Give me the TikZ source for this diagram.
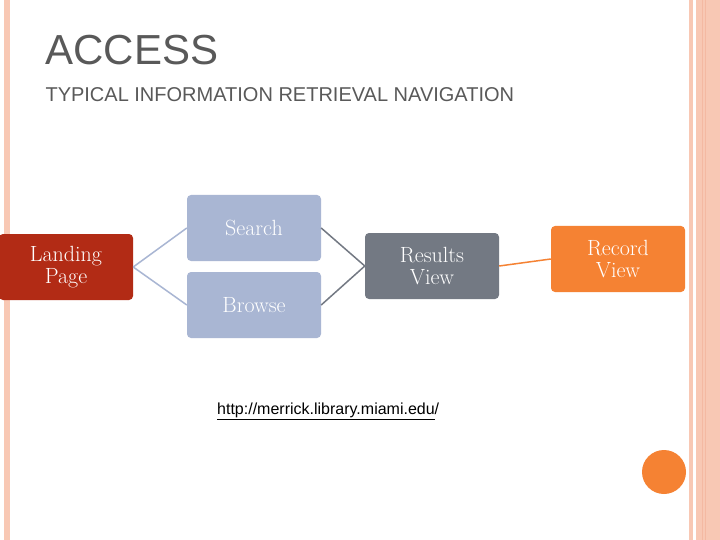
\documentclass[tikz,border=0pt]{standalone}
\usepackage{fontspec}
\setsansfont{Liberation Sans}
\definecolor{peach}{HTML}{F8C8B4}
\definecolor{peachd}{HTML}{F4B9A2}
\definecolor{red1}{HTML}{B22B15}
\definecolor{blue1}{HTML}{A9B6D3}
\definecolor{gray1}{HTML}{737983}
\definecolor{orange1}{HTML}{F58233}
\definecolor{txt}{HTML}{595959}
\begin{document}
\begin{tikzpicture}[x=1pt,y=-1pt,
  box/.style={rounded corners=4pt,minimum width=134pt,minimum height=66pt,text=white,align=center,font=\fontsize{22}{22}\selectfont,inner sep=0pt},
  conn/.style={line width=1.5pt}]
\useasboundingbox (0,0) rectangle (720,540);
\fill[white] (0,0) rectangle (720,540);
\fill[peach] (4,0) rectangle (10,540);
\fill[peach] (689,0) rectangle (693,540);
\fill[peach] (696,0) rectangle (720,540);
\draw[peachd,line width=0.8pt] (702,0) -- (702,540) (705,0) -- (705,540);
\node[anchor=west,text=txt,font=\sffamily\fontsize{42}{42}\selectfont] (t) at (42,50) {ACCESS};
\node[anchor=west,text=txt,font=\sffamily\fontsize{20}{20}\selectfont] (s) at (42,95) {TYPICAL INFORMATION RETRIEVAL NAVIGATION};
\node[box,fill=red1] (lp) at (66,267) {Landing\\Page};
\node[box,fill=blue1] (se) at (254,228) {Search};
\node[box,fill=blue1] (br) at (254,305) {Browse};
\node[box,fill=gray1] (rv) at (432,266) {Results\\View};
\node[box,fill=orange1] (rc) at (618,259) {Record\\View};
\draw[conn,blue1] (lp.east) -- (se.west);
\draw[conn,blue1] (lp.east) -- (br.west);
\draw[conn,gray1] (se.east) -- (rv.west);
\draw[conn,gray1] (br.east) -- (rv.west);
\draw[conn,orange1] (rv.east) -- (rc.west);
\node[anchor=west,font=\sffamily\fontsize{16}{16}\selectfont,inner sep=0pt] (u) at (217,411) {\underline{http://merrick.library.miami.edu}/};
\fill[orange1] (664,472) circle (22);
\end{tikzpicture}
\end{document}
